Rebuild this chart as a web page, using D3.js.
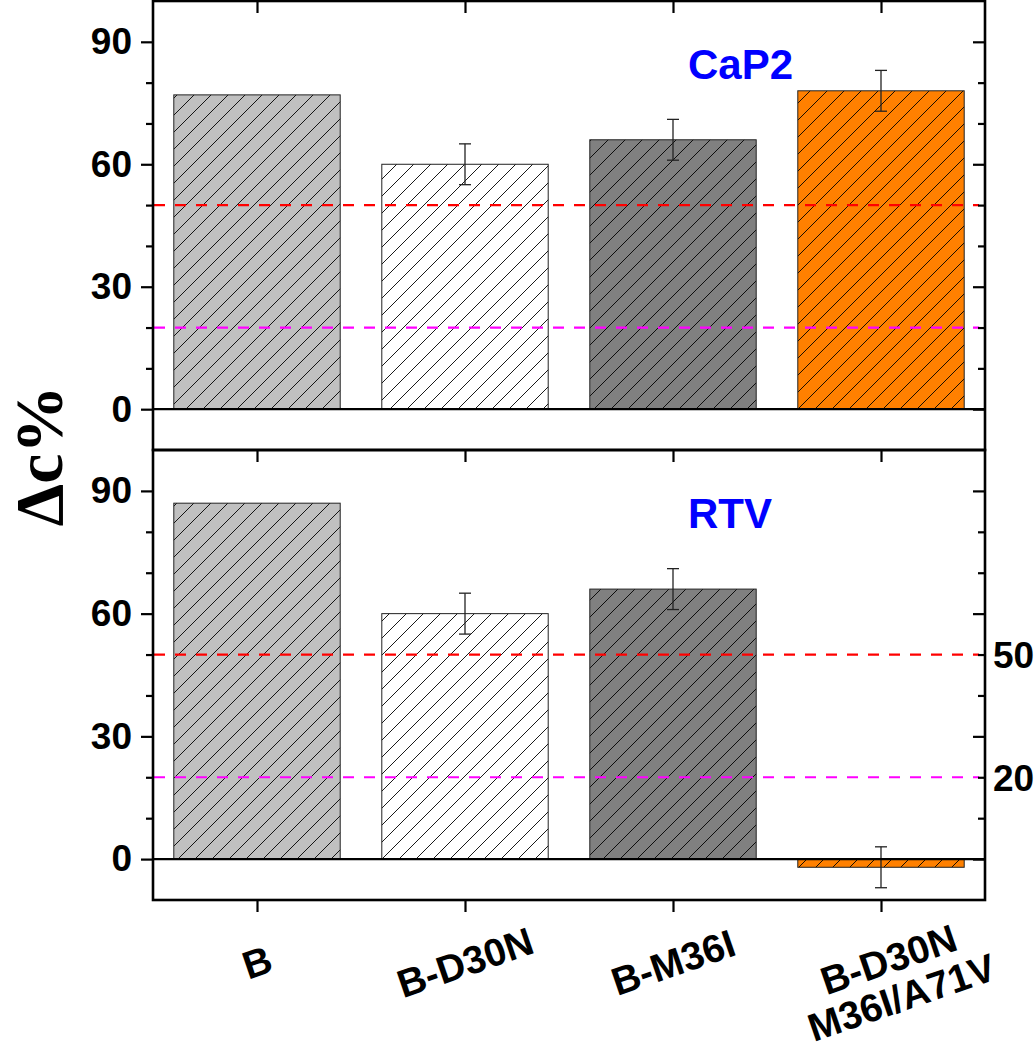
<!DOCTYPE html>
<html>
<head>
<meta charset="utf-8">
<script src="https://cdn.jsdelivr.net/npm/d3@7"></script>
<style>
  html, body { margin: 0; padding: 0; background: #ffffff; }
  svg { display: block; }
</style>
</head>
<body>
<script>
// ---------------- data ----------------
const categories = ["B", "B-D30N", "B-M36I", "B-D30N M36I/A71V"];
const categoryLines = [["B"], ["B-D30N"], ["B-M36I"], ["B-D30N", "M36I/A71V"]];
const capValues = [77, 60, 66, 78];
const capErrors = [0, 5, 5, 5];
const rtvValues = [87, 60, 66, -2];
const rtvErrors = [0, 5, 5, 5];
const barColors = ["#c0c0c0", "#ffffff", "#808080", "#ff8000"];
const panelNames = ["CaP2", "RTV"];
const majorTicks = [0, 30, 60, 90];
const minorTicks = [10, 20, 40, 50, 70, 80];
const thresholdValues = [50, 20];
const thresholdColors = ["#ff0000", "#ff00ff"];
const thresholdLabels = ["50", "20"];
const yDomain = [-10, 100];
const yTitle = "\u0394c%";

// ---------------- layout ----------------
const W = 1035, H = 1050;
const L = 153, R = 985;
const panelsY = [[1, 450], [450, 900]];
const sansFont = "'Liberation Sans', Arial, Helvetica, sans-serif";

const svg = d3.select("body").append("svg").attr("width", W).attr("height", H);
const defs = svg.append("defs");

barColors.forEach((c, i) => {
  const p = defs.append("pattern")
    .attr("id", "hatch" + i)
    .attr("patternUnits", "userSpaceOnUse")
    .attr("width", 17).attr("height", 17);
  p.append("rect").attr("width", 17).attr("height", 17).attr("fill", c);
  p.append("path")
    .attr("d", "M0,17 L17,0 M-3,3 L3,-3 M14,20 L20,14")
    .attr("stroke", "#000").attr("stroke-width", 0.9).attr("fill", "none");
});

const x = d3.scaleBand().domain(categories).range([L, R])
  .paddingInner(0.2).paddingOuter(0.1);
const xCenter = d => x(d) + x.bandwidth() / 2;
const xPoint = d3.scalePoint().domain(categories).range([xCenter(categories[0]), xCenter(categories[3])]);

const panels = [
  { name: panelNames[0], vals: capValues, errs: capErrors, y0: panelsY[0][0], y1: panelsY[0][1], right: false },
  { name: panelNames[1], vals: rtvValues, errs: rtvErrors, y0: panelsY[1][0], y1: panelsY[1][1], right: true }
];

panels.forEach((pn, pi) => {
  const y = d3.scaleLinear().domain(yDomain).range([pn.y1, pn.y0]);
  const g = svg.append("g");
  const data = categories.map((c, i) => ({ c, v: pn.vals[i], e: pn.errs[i], i }));

  // bars
  g.selectAll("rect.bar").data(data).join("rect")
    .attr("class", "bar")
    .attr("x", d => x(d.c))
    .attr("width", x.bandwidth())
    .attr("y", d => Math.min(y(d.v), y(0)))
    .attr("height", d => Math.abs(y(d.v) - y(0)))
    .attr("fill", d => "url(#hatch" + d.i + ")")
    .attr("stroke", "#222").attr("stroke-width", 1);

  // error bars
  const eb = g.selectAll("g.err").data(data.filter(d => d.e > 0)).join("g")
    .attr("class", "err").attr("stroke", "#222").attr("stroke-width", 1.3);
  eb.append("line")
    .attr("x1", d => xCenter(d.c)).attr("x2", d => xCenter(d.c))
    .attr("y1", d => y(d.v + d.e)).attr("y2", d => y(d.v - d.e));
  eb.append("line")
    .attr("x1", d => xCenter(d.c) - 6).attr("x2", d => xCenter(d.c) + 6)
    .attr("y1", d => y(d.v + d.e)).attr("y2", d => y(d.v + d.e));
  eb.append("line")
    .attr("x1", d => xCenter(d.c) - 6).attr("x2", d => xCenter(d.c) + 6)
    .attr("y1", d => y(d.v - d.e)).attr("y2", d => y(d.v - d.e));

  // threshold dashed lines
  thresholdValues.forEach((t, k) => {
    g.append("line")
      .attr("x1", L + 1).attr("x2", R - 6)
      .attr("y1", y(t)).attr("y2", y(t))
      .attr("stroke", thresholdColors[k]).attr("stroke-width", 2.2)
      .attr("stroke-dasharray", "11,10");
  });

  // zero line
  g.append("line")
    .attr("x1", L).attr("x2", R)
    .attr("y1", y(0)).attr("y2", y(0))
    .attr("stroke", "#000").attr("stroke-width", 2.2);

  // left axis major
  const la = g.append("g").attr("transform", `translate(${L},0)`)
    .call(d3.axisLeft(y).tickValues(majorTicks).tickSize(12).tickPadding(9).tickFormat(d3.format("d")));
  la.select(".domain").remove();
  la.selectAll("line").attr("stroke", "#000").attr("stroke-width", 2.2);
  la.selectAll("text")
    .attr("font-family", sansFont).attr("font-weight", "bold")
    .attr("font-size", 37).attr("fill", "#000");

  // left axis minor
  const lm = g.append("g").attr("transform", `translate(${L},0)`)
    .call(d3.axisLeft(y).tickValues(minorTicks).tickSize(7).tickFormat(""));
  lm.select(".domain").remove();
  lm.selectAll("line").attr("stroke", "#000").attr("stroke-width", 2.2);

  // right axis (inward)
  const ra = g.append("g").attr("transform", `translate(${R},0)`)
    .call(d3.axisRight(y).tickValues(majorTicks).tickSize(-12).tickFormat(""));
  ra.select(".domain").remove();
  ra.selectAll("line").attr("stroke", "#000").attr("stroke-width", 2.2);
  const rm = g.append("g").attr("transform", `translate(${R},0)`)
    .call(d3.axisRight(y).tickValues(minorTicks).tickSize(-7).tickFormat(""));
  rm.select(".domain").remove();
  rm.selectAll("line").attr("stroke", "#000").attr("stroke-width", 2.2);

  // top ticks (inward)
  const ta = g.append("g").attr("transform", `translate(0,${pn.y0})`)
    .call(d3.axisBottom(xPoint).tickSize(12).tickFormat(""));
  ta.select(".domain").remove();
  ta.selectAll("line").attr("stroke", "#000").attr("stroke-width", 2.2);

  // frame
  g.append("rect")
    .attr("x", L).attr("y", pn.y0)
    .attr("width", R - L).attr("height", pn.y1 - pn.y0)
    .attr("fill", "none").attr("stroke", "#000").attr("stroke-width", 2.6);

  // panel name
  g.append("text")
    .attr("x", L + 535).attr("y", pn.y0 + 78)
    .attr("font-family", sansFont).attr("font-weight", "bold")
    .attr("font-size", 42).attr("fill", "#0000ff")
    .text(pn.name);

  // right-side threshold labels
  if (pn.right) {
    thresholdValues.forEach((t, k) => {
      g.append("text")
        .attr("x", R + 8).attr("y", y(t)).attr("dy", "0.36em")
        .attr("font-family", sansFont).attr("font-weight", "bold")
        .attr("font-size", 37).attr("fill", "#000")
        .text(thresholdLabels[k]);
    });
  }

  // bottom axis for the last panel
  if (pi === panels.length - 1) {
    const ba = g.append("g").attr("transform", `translate(0,${pn.y1})`)
      .call(d3.axisBottom(xPoint).tickSize(12).tickFormat(""));
    ba.select(".domain").remove();
    ba.selectAll("line").attr("stroke", "#000").attr("stroke-width", 2.2);

    const lab = g.selectAll("g.xlab").data(categories).join("g")
      .attr("class", "xlab")
      .attr("transform", (d, i) => {
        const n = categoryLines[i].length;
        return `translate(${xPoint(d) + (n - 1) * 14},${962 + (n - 1) * 16}) rotate(-19)`;
      });
    lab.each(function (d, i) {
      const lines = categoryLines[i];
      const t = d3.select(this).append("text")
        .attr("text-anchor", "middle")
        .attr("font-family", sansFont).attr("font-weight", "bold")
        .attr("font-size", 39).attr("fill", "#000");
      lines.forEach((ln, k) => {
        t.append("tspan")
          .attr("x", 0)
          .attr("y", (k - (lines.length - 1) / 2) * 40)
          .attr("dy", "0.36em")
          .text(ln);
      });
    });
  }
});

// y-axis title
svg.append("text")
  .attr("transform", "translate(62,456) rotate(-90)")
  .attr("text-anchor", "middle")
  .attr("font-family", "'Liberation Serif', 'Times New Roman', serif")
  .attr("font-weight", "bold").attr("font-size", 68).attr("fill", "#000")
  .text(yTitle);
</script>
</body>
</html>
